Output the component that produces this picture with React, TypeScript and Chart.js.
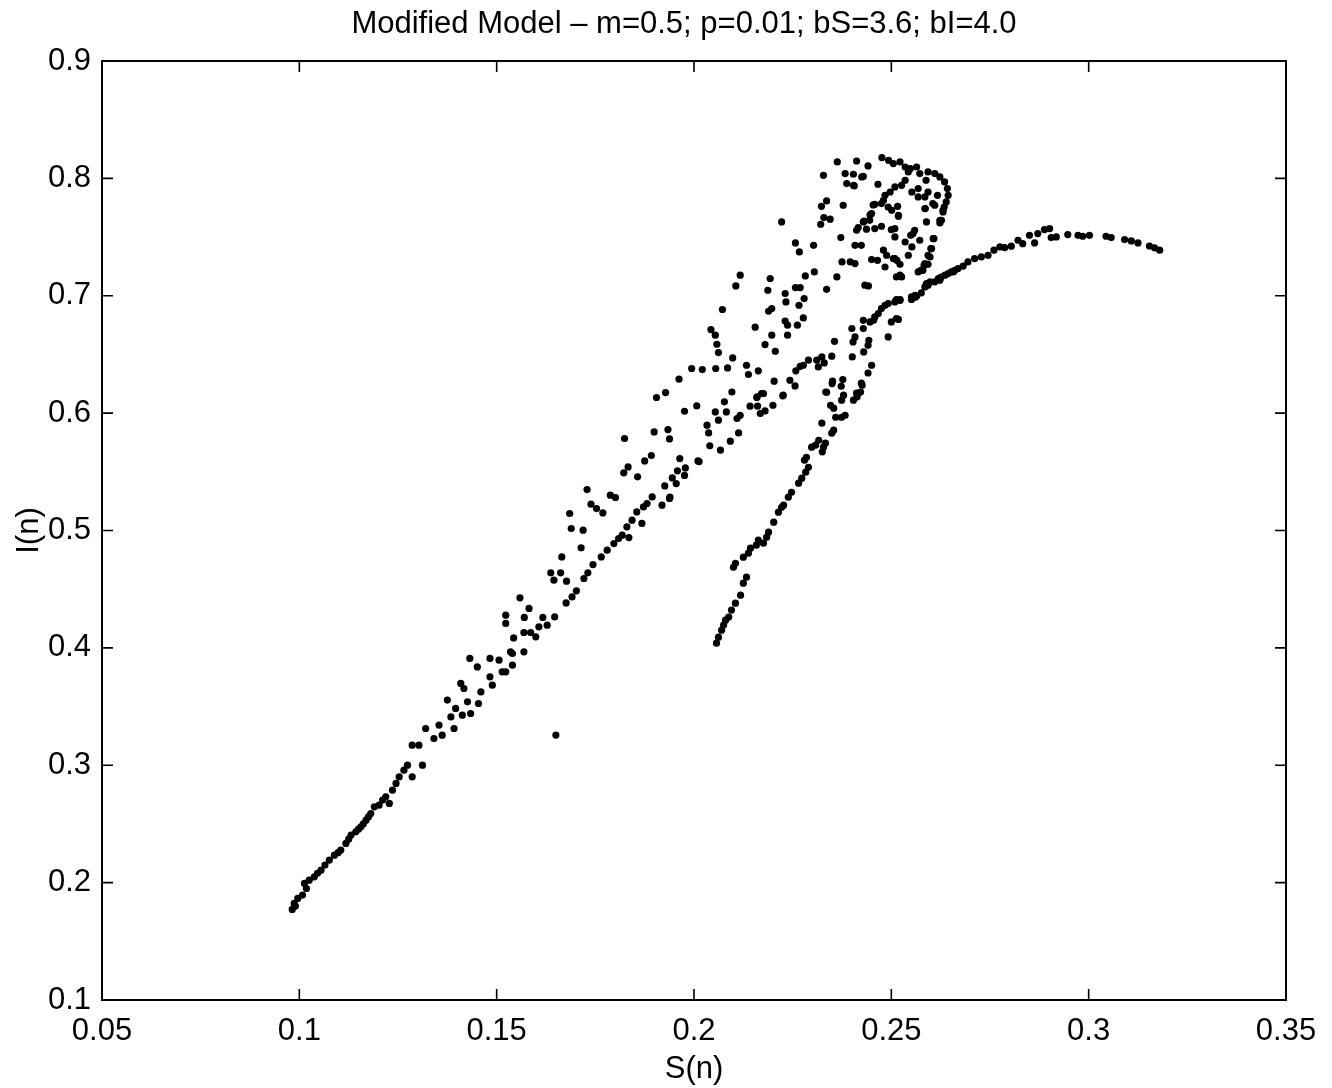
import { useEffect, useRef } from "react";
import { Chart, registerables } from "chart.js";

Chart.register(...registerables);

const chartTitle = "Modified Model – m=0.5; p=0.01; bS=3.6; bI=4.0";
const xAxisTitle = "S(n)";
const yAxisTitle = "I(n)";

const xTicks = [0.05, 0.1, 0.15, 0.2, 0.25, 0.3, 0.35];
const xTickLabels = ["0.05", "0.1", "0.15", "0.2", "0.25", "0.3", "0.35"];
const yTicks = [0.1, 0.2, 0.3, 0.4, 0.5, 0.6, 0.7, 0.8, 0.9];
const yTickLabels = ["0.1", "0.2", "0.3", "0.4", "0.5", "0.6", "0.7", "0.8", "0.9"];

// [S(n), I(n)] pairs
const lowerTail = [
  [0.0982, 0.1772], [0.0987, 0.1823], [0.099, 0.18], [0.0996, 0.1865], [0.1008, 0.1894], [0.1013, 0.1993],
  [0.1018, 0.195], [0.1025, 0.2021], [0.1038, 0.2049], [0.1046, 0.208], [0.1055, 0.2106], [0.1065, 0.215],
  [0.1076, 0.2192], [0.1089, 0.2234], [0.1098, 0.2255], [0.1105, 0.2277], [0.1118, 0.2334], [0.1125, 0.237],
  [0.1131, 0.2405], [0.1143, 0.2433], [0.115, 0.2455], [0.1156, 0.2475], [0.1162, 0.25], [0.1169, 0.2532],
  [0.1175, 0.256], [0.1181, 0.2589], [0.119, 0.2646], [0.1202, 0.266], [0.1211, 0.2703], [0.1219, 0.2731],
  [0.1228, 0.2675], [0.1236, 0.2788], [0.1245, 0.2845], [0.1253, 0.2901], [0.1265, 0.2958], [0.1274, 0.3001],
  [0.1286, 0.2901], [0.1312, 0.3001], [0.1286, 0.3171], [0.1303, 0.3171], [0.132, 0.3313], [0.1341, 0.3228],
  [0.1354, 0.3342], [0.1362, 0.3256], [0.1375, 0.3555], [0.1384, 0.3412], [0.1392, 0.3313], [0.1396, 0.3484],
  [0.1409, 0.3697], [0.1417, 0.3654], [0.1413, 0.3427], [0.1426, 0.354], [0.1434, 0.3441], [0.1432, 0.391],
  [0.1451, 0.3838], [0.1454, 0.3526], [0.146, 0.3625], [0.1483, 0.391], [0.1483, 0.3753], [0.1489, 0.3682],
  [0.1506, 0.3895], [0.1523, 0.3796], [0.154, 0.3853], [0.154, 0.3952], [0.1514, 0.3796], [0.1535, 0.3966],
];

const leftCloud = [
  [0.1543, 0.4085], [0.1569, 0.3966], [0.1569, 0.4131], [0.157, 0.4259], [0.1523, 0.4279], [0.1523, 0.4208],
  [0.1559, 0.4426], [0.1582, 0.4336], [0.1586, 0.4131], [0.1599, 0.4094], [0.1607, 0.4179], [0.1617, 0.4259],
  [0.1628, 0.4193], [0.1647, 0.4264], [0.1676, 0.4383], [0.1691, 0.4434], [0.1702, 0.4486], [0.1637, 0.4639],
  [0.1662, 0.4639], [0.1645, 0.4577], [0.1677, 0.4568], [0.1665, 0.4775], [0.1721, 0.4591], [0.1731, 0.4639],
  [0.1744, 0.471], [0.1765, 0.4775], [0.178, 0.4832], [0.1797, 0.4889], [0.1809, 0.4932], [0.1818, 0.496],
  [0.1835, 0.494], [0.183, 0.5031], [0.1843, 0.5088], [0.1855, 0.5158], [0.1872, 0.5201], [0.1881, 0.523],
  [0.1868, 0.506], [0.1894, 0.5286], [0.1919, 0.5216], [0.1926, 0.538], [0.1938, 0.5273], [0.1945, 0.5448],
  [0.1955, 0.54], [0.1958, 0.5508], [0.1714, 0.4852], [0.1719, 0.5003], [0.1689, 0.5017], [0.1685, 0.5145],
  [0.1729, 0.5349], [0.1739, 0.5224], [0.1753, 0.5187], [0.1769, 0.515], [0.1788, 0.5301], [0.1801, 0.5281],
  [0.1822, 0.5491], [0.1833, 0.5542], [0.1857, 0.5457], [0.1824, 0.5784], [0.1875, 0.5593], [0.1892, 0.5639],
  [0.1899, 0.584], [0.1934, 0.586], [0.1938, 0.578], [0.1905, 0.6133], [0.1928, 0.6175], [0.1976, 0.6016],
  [0.1964, 0.5613], [0.201, 0.5593], [0.1978, 0.5533], [0.1976, 0.5469], [0.1939, 0.5284], [0.1994, 0.638],
  [0.1962, 0.6289], [0.2007, 0.6061], [0.2054, 0.601], [0.2062, 0.594], [0.2033, 0.5897], [0.2037, 0.5831],
  [0.204, 0.5721], [0.2067, 0.5684], [0.2092, 0.5761], [0.2113, 0.5831], [0.2109, 0.5954], [0.2117, 0.5982],
  [0.2082, 0.601], [0.2077, 0.6096], [0.2096, 0.618], [0.2142, 0.6059], [0.2161, 0.6059], [0.2159, 0.6133],
  [0.2176, 0.6167], [0.2168, 0.5997], [0.218, 0.6019], [0.22, 0.6067], [0.2225, 0.6147], [0.2013, 0.5587],
];

const middleCloud = [
  [0.2257, 0.745], [0.2303, 0.743], [0.2424, 0.743], [0.2267, 0.7373], [0.2375, 0.7288], [0.2408, 0.7274],
  [0.2465, 0.7302], [0.2117, 0.7175], [0.2193, 0.7147], [0.2282, 0.7169], [0.2305, 0.7203], [0.2362, 0.716],
  [0.2106, 0.7084], [0.2187, 0.7047], [0.2257, 0.707], [0.2269, 0.707], [0.2336, 0.7055], [0.2433, 0.709],
  [0.2442, 0.7084], [0.2231, 0.7019], [0.2233, 0.6947], [0.2279, 0.6976], [0.2266, 0.6919], [0.2072, 0.6883],
  [0.2189, 0.6868], [0.2197, 0.6891], [0.2277, 0.6811], [0.2231, 0.6785], [0.2237, 0.6749], [0.2262, 0.6749],
  [0.2043, 0.6712], [0.2155, 0.6732], [0.2054, 0.6664], [0.2197, 0.6664], [0.2237, 0.6664], [0.2058, 0.6587],
  [0.218, 0.6584], [0.2206, 0.6527], [0.2062, 0.6516], [0.2098, 0.647], [0.2356, 0.6612], [0.24, 0.6721],
  [0.2429, 0.6791], [0.2455, 0.6791], [0.2429, 0.6721], [0.2408, 0.6649], [0.2403, 0.6607], [0.2443, 0.6621],
  [0.2441, 0.6578], [0.243, 0.6521], [0.2401, 0.6479], [0.2349, 0.6485], [0.2324, 0.6479], [0.2311, 0.6451],
  [0.233, 0.6428], [0.229, 0.6451], [0.2277, 0.6408], [0.2269, 0.6399], [0.2258, 0.636], [0.2315, 0.6394],
  [0.245, 0.6408], [0.2441, 0.6342], [0.2021, 0.6371], [0.2055, 0.638], [0.2085, 0.6385], [0.2133, 0.6408],
  [0.2138, 0.6329], [0.2163, 0.636], [0.2203, 0.6272], [0.2243, 0.628], [0.2256, 0.6232], [0.2171, 0.6167],
  [0.216, 0.6138], [0.2226, 0.6153], [0.235, 0.6252], [0.2377, 0.6286], [0.2373, 0.6229], [0.2426, 0.6238],
  [0.2422, 0.618], [0.2334, 0.618], [0.2413, 0.6138],
];

const rightBranch = [
  [0.2057, 0.404], [0.2062, 0.4091], [0.207, 0.4151], [0.2075, 0.4194], [0.208, 0.4236], [0.2088, 0.4262],
  [0.2095, 0.4322], [0.2105, 0.4381], [0.2118, 0.4449], [0.2125, 0.4551], [0.2133, 0.4602], [0.21, 0.4687],
  [0.2105, 0.4721], [0.2125, 0.4773], [0.2138, 0.4807], [0.2143, 0.4849], [0.2158, 0.4875], [0.2163, 0.4918],
  [0.2176, 0.4892], [0.2184, 0.4943], [0.2189, 0.4986], [0.2202, 0.5071], [0.2214, 0.5156], [0.2222, 0.5198],
  [0.2227, 0.5216], [0.2239, 0.5284], [0.2247, 0.5326], [0.2265, 0.5403], [0.2273, 0.5446], [0.2283, 0.5497],
  [0.229, 0.5539], [0.2285, 0.5624], [0.228, 0.5599], [0.2298, 0.571], [0.2308, 0.5727], [0.2316, 0.5769],
  [0.2328, 0.571], [0.2333, 0.5744], [0.2349, 0.5829], [0.2354, 0.5855], [0.2359, 0.5965], [0.2374, 0.5965],
  [0.2324, 0.5914], [0.2346, 0.6067], [0.2354, 0.6042], [0.2374, 0.611], [0.2336, 0.6178], [0.2379, 0.6153],
  [0.2404, 0.611], [0.2412, 0.617], [0.2417, 0.617], [0.2424, 0.6255], [0.2351, 0.6272], [0.2383, 0.5982],
  [0.2325, 0.567],
];

const upperCloud = [
  [0.2412, 0.8148], [0.2441, 0.8106], [0.2383, 0.8041], [0.2404, 0.8035], [0.2425, 0.8012], [0.2387, 0.7956],
  [0.2404, 0.7941], [0.2466, 0.795], [0.2476, 0.8177], [0.2493, 0.8154], [0.2505, 0.8126], [0.2522, 0.814],
  [0.2535, 0.8097], [0.2548, 0.8083], [0.2564, 0.8097], [0.2543, 0.8055], [0.2572, 0.8041], [0.2593, 0.8055],
  [0.261, 0.8041], [0.2623, 0.8012], [0.2635, 0.797], [0.2642, 0.7913], [0.2644, 0.7856], [0.2639, 0.7799],
  [0.2634, 0.7756], [0.2631, 0.7714], [0.2627, 0.7643], [0.2623, 0.762], [0.2535, 0.7984], [0.2526, 0.7941],
  [0.2509, 0.7927], [0.2497, 0.7884], [0.2484, 0.7856], [0.248, 0.7813], [0.2475, 0.7785], [0.2492, 0.7756],
  [0.2501, 0.7728], [0.2516, 0.7762], [0.2518, 0.7677], [0.2552, 0.7884], [0.2568, 0.7913], [0.2588, 0.7984],
  [0.2568, 0.7842], [0.2585, 0.7842], [0.2593, 0.7884], [0.2617, 0.7856], [0.261, 0.7771], [0.2586, 0.7743],
  [0.2589, 0.7629], [0.2458, 0.7779], [0.245, 0.77], [0.2378, 0.7771], [0.2429, 0.7629], [0.2445, 0.7643],
  [0.2475, 0.7592], [0.25, 0.7564], [0.2509, 0.7501], [0.2412, 0.7558], [0.2408, 0.743], [0.2559, 0.7558],
  [0.2549, 0.7515], [0.2572, 0.7473], [0.2606, 0.7487], [0.2535, 0.7458], [0.2552, 0.7416], [0.2602, 0.7402],
  [0.2598, 0.733], [0.2543, 0.7345], [0.2488, 0.7345], [0.2505, 0.7317], [0.2514, 0.7302], [0.245, 0.7308],
  [0.2396, 0.7288], [0.2593, 0.7268], [0.2363, 0.814], [0.2328, 0.8026], [0.2429, 0.8017], [0.2406, 0.7936],
  [0.2336, 0.7808], [0.2323, 0.7762], [0.2222, 0.7629], [0.2329, 0.7666], [0.2345, 0.7652], [0.2321, 0.7609],
  [0.2372, 0.7496], [0.2416, 0.7581], [0.2431, 0.7637], [0.2437, 0.7567], [0.2446, 0.7689], [0.2454, 0.7774],
  [0.2484, 0.7245], [0.2509, 0.7317], [0.2522, 0.7268], [0.2568, 0.7203], [0.2522, 0.7175], [0.2513, 0.716],
  [0.2583, 0.726], [0.248, 0.7388], [0.2458, 0.7572], [0.2509, 0.7572], [0.2518, 0.7686], [0.2555, 0.753],
  [0.2575, 0.7217], [0.2605, 0.7785], [0.2585, 0.7743], [0.2526, 0.716],
];

const crossStrand = [
  [0.2492, 0.6649], [0.2513, 0.6806], [0.25, 0.6777], [0.2509, 0.6947], [0.2522, 0.6961], [0.2551, 0.699],
  [0.256, 0.7004], [0.2585, 0.7075], [0.2598, 0.7118], [0.2619, 0.7147], [0.2636, 0.7175], [0.2652, 0.7203],
  [0.2669, 0.7232], [0.2694, 0.7288], [0.2711, 0.7317], [0.258, 0.7217], [0.2585, 0.7274], [0.2593, 0.7345],
  [0.26, 0.7402], [0.2608, 0.7487], [0.2623, 0.7643], [0.2631, 0.7728], [0.2446, 0.6777], [0.2458, 0.682],
  [0.2467, 0.6848], [0.2475, 0.6891], [0.2484, 0.6919], [0.2492, 0.6933], [0.2513, 0.6968], [0.2522, 0.6968],
  [0.2518, 0.6798],
];

const arcTail = [
  [0.256, 0.6987], [0.2593, 0.709], [0.2626, 0.7158], [0.2661, 0.7217], [0.2682, 0.7253], [0.2728, 0.7331],
  [0.2745, 0.7345], [0.276, 0.7388], [0.2775, 0.7416], [0.2787, 0.741], [0.2804, 0.7422], [0.2821, 0.7473],
  [0.2833, 0.7444], [0.285, 0.7515], [0.2863, 0.745], [0.2871, 0.753], [0.2888, 0.7564], [0.2901, 0.7572],
  [0.2905, 0.7496], [0.2918, 0.7501], [0.2947, 0.7521], [0.2973, 0.7515], [0.2985, 0.7507], [0.3002, 0.7515],
  [0.3044, 0.7507], [0.3057, 0.7496], [0.3091, 0.7479], [0.3108, 0.7467], [0.3125, 0.745], [0.3154, 0.7424],
  [0.3167, 0.7408], [0.318, 0.7388], [0.2644, 0.7189], [0.2657, 0.7203], [0.261, 0.7118], [0.2623, 0.7132],
  [0.2589, 0.7104], [0.2551, 0.6968], [0.2564, 0.6996], [0.2576, 0.7025],
];

const strayPoints = [[0.165, 0.3257]];

const groups = [lowerTail, leftCloud, middleCloud, rightBranch, upperCloud, crossStrand, arcTail, strayPoints];

const FONT = "'Liberation Sans', Arial, Helvetica, sans-serif";

const framePlugin = {
  id: "matlabFrame",
  afterDatasetsDraw(chart: any) {
    const { ctx, chartArea, scales } = chart;
    const { left, right, top, bottom } = chartArea;
    const x = scales.x;
    const y = scales.y;
    ctx.save();
    ctx.strokeStyle = "#000";
    ctx.lineWidth = 2;
    ctx.strokeRect(left, top, right - left, bottom - top);
    ctx.lineWidth = 1.6;
    ctx.beginPath();
    const tl = 11;
    xTicks.forEach((v) => {
      const px = x.getPixelForValue(v);
      ctx.moveTo(px, bottom);
      ctx.lineTo(px, bottom - tl);
      ctx.moveTo(px, top);
      ctx.lineTo(px, top + tl);
    });
    yTicks.forEach((v) => {
      const py = y.getPixelForValue(v);
      ctx.moveTo(left, py);
      ctx.lineTo(left + tl, py);
      ctx.moveTo(right, py);
      ctx.lineTo(right - tl, py);
    });
    ctx.stroke();
    ctx.restore();
  },
};

// Title centred over the plot area, as in the MATLAB figure
const titlePlugin = {
  id: "plotTitle",
  afterDraw(chart: any) {
    const { ctx, chartArea } = chart;
    ctx.save();
    ctx.fillStyle = "#000";
    ctx.font = `31px ${FONT}`;
    ctx.textAlign = "center";
    ctx.textBaseline = "middle";
    ctx.fillText(chartTitle, (chartArea.left + chartArea.right) / 2 - 10, chartArea.top - 37);
    ctx.restore();
  },
};

export default function App() {
  const ref = useRef<HTMLCanvasElement | null>(null);

  useEffect(() => {
    if (!ref.current) return;
    const datasets = groups.map((g) => ({
      data: g.map(([s, i]) => ({ x: s, y: i })),
      backgroundColor: "#000",
      borderColor: "#000",
      pointRadius: 3.6,
      pointBorderWidth: 0,
      pointHoverRadius: 3.6,
      showLine: false,
    }));
    const chart = new Chart(ref.current, {
      type: "scatter",
      data: { datasets },
      options: {
        animation: false,
        responsive: false,
        events: [],
        layout: { padding: { left: 0, right: 46, top: 61, bottom: 0 } },
        plugins: {
          legend: { display: false },
          tooltip: { enabled: false },
          title: { display: false },
        },
        scales: {
          x: {
            type: "linear",
            min: 0.05,
            max: 0.35,
            afterBuildTicks: (s: any) => {
              s.ticks = xTicks.map((v) => ({ value: v }));
            },
            afterFit: (s: any) => {
              s.height = 88;
            },
            ticks: {
              callback: (_v: any, i: number) => xTickLabels[i],
              color: "#000",
              font: { family: FONT, size: 31 },
              padding: 13,
              maxRotation: 0,
              autoSkip: false,
            },
            grid: { display: false, drawTicks: false },
            border: { display: false },
            title: {
              display: true,
              text: xAxisTitle,
              color: "#000",
              font: { family: FONT, size: 31 },
              padding: { top: 7, bottom: 0 },
            },
          },
          y: {
            type: "linear",
            min: 0.1,
            max: 0.9,
            afterBuildTicks: (s: any) => {
              s.ticks = yTicks.map((v) => ({ value: v }));
            },
            afterFit: (s: any) => {
              s.width = 102;
            },
            ticks: {
              callback: (_v: any, i: number) => yTickLabels[i],
              color: "#000",
              font: { family: FONT, size: 31 },
              padding: 11,
              autoSkip: false,
            },
            grid: { display: false, drawTicks: false },
            border: { display: false },
            title: {
              display: true,
              text: yAxisTitle,
              color: "#000",
              font: { family: FONT, size: 31 },
              padding: { top: 11, bottom: 0 },
            },
          },
        },
      } as any,
      plugins: [framePlugin, titlePlugin],
    });
    return () => chart.destroy();
  }, []);

  return (
    <div style={{ position: "absolute", left: 0, top: 0, width: 1332, height: 1088, background: "#fff" }}>
      <canvas ref={ref} width={1332} height={1088} style={{ display: "block" }} />
    </div>
  );
}
